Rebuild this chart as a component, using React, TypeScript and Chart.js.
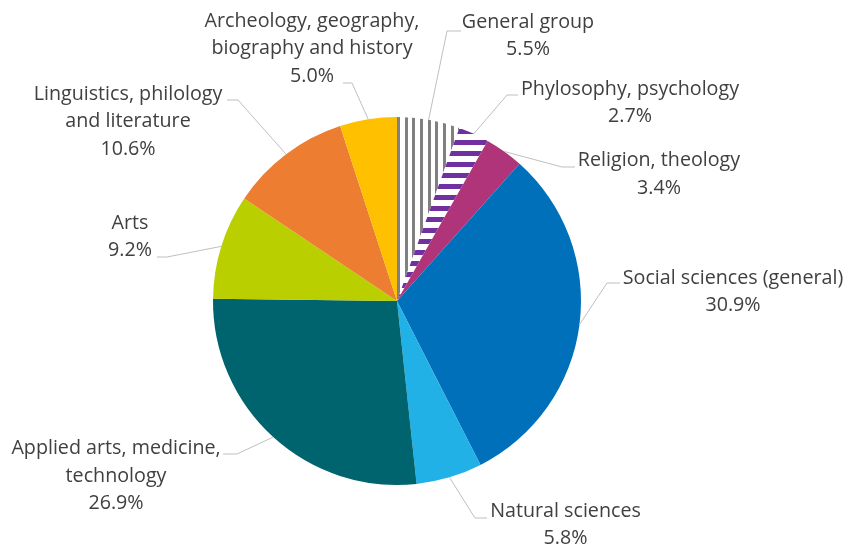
import React, { useEffect, useRef } from "react";
import { Chart, registerables } from "chart.js";

Chart.register(...registerables);

const categories = [
  "General group",
  "Phylosophy, psychology",
  "Religion, theology",
  "Social sciences (general)",
  "Natural sciences",
  "Applied arts, medicine, technology",
  "Arts",
  "Linguistics, philology and literature",
  "Archeology, geography, biography and history",
];

const shares = [5.5, 2.7, 3.4, 30.9, 5.8, 26.9, 9.2, 10.6, 5.0];

// label text lines (last line is the value, appended at draw time)
const labelLines = [
  ["General group"],
  ["Phylosophy, psychology"],
  ["Religion, theology"],
  ["Social sciences (general)"],
  ["Natural sciences"],
  ["Applied arts, medicine,", "technology"],
  ["Arts"],
  ["Linguistics, philology", "and literature"],
  ["Archeology, geography,", "biography and history"],
];

// label placement, offsets from pie centre: text centre x, first line y, elbow, end of leader
const labelLayout = [
  { tx: 131, ty: -279, ex: 50, ey: -270, hx: 64 },
  { tx: 233, ty: -212, ex: 110, ey: -206, hx: 121 },
  { tx: 262, ty: -140.5, ex: 165, ey: -134, hx: 178 },
  { tx: 336, ty: -23, ex: 210, ey: -18, hx: 223 },
  { tx: 168.5, ty: 210, ex: 78, ey: 217, hx: 90 },
  { tx: -281, ty: 147.5, ex: -160, ey: 153, hx: -174 },
  { tx: -267, ty: -78, ex: -230, ey: -44, hx: -240 },
  { tx: -269, ty: -207, ex: -159, ey: -201, hx: -170 },
  { tx: -85, ty: -280, ex: -45, ey: -218, hx: -54 },
];

const solidColors = [
  null,
  null,
  "#B03479",
  "#0070BA",
  "#22B1E6",
  "#00646E",
  "#BACF00",
  "#ED7D31",
  "#FFC000",
];

function makeVerticalStripes(): CanvasPattern | string {
  const c = document.createElement("canvas");
  c.width = 23;
  c.height = 4;
  const ctx = c.getContext("2d");
  if (!ctx) return "#808080";
  ctx.fillStyle = "#ffffff";
  ctx.fillRect(0, 0, 23, 4);
  ctx.fillStyle = "#808080";
  ctx.fillRect(6, 0, 3, 4);
  ctx.fillRect(14, 0, 3, 4);
  ctx.fillRect(21, 0, 2, 4);
  ctx.fillRect(0, 0, 1, 4);
  return ctx.createPattern(c, "repeat") || "#808080";
}

function makeHorizontalStripes(): CanvasPattern | string {
  const c = document.createElement("canvas");
  c.width = 4;
  c.height = 11;
  const ctx = c.getContext("2d");
  if (!ctx) return "#7030A0";
  ctx.fillStyle = "#ffffff";
  ctx.fillRect(0, 0, 4, 11);
  ctx.fillStyle = "#7030A0";
  ctx.fillRect(0, 8, 4, 3);
  ctx.fillRect(0, 0, 4, 2);
  return ctx.createPattern(c, "repeat") || "#7030A0";
}

const FONT = "19.7px 'Open Sans', 'Noto Sans', sans-serif";
const LINE_H = 27.5;

const labelPlugin = {
  id: "pieLabels",
  afterDraw(chart: any) {
    const ctx = chart.ctx;
    const meta = chart.getDatasetMeta(0);
    ctx.save();
    meta.data.forEach((arc: any, i: number) => {
      const p = arc.getProps(["x", "y", "startAngle", "endAngle", "outerRadius"], true);
      const lay = labelLayout[i];
      const mid = (p.startAngle + p.endAngle) / 2;
      const sx = p.x + Math.cos(mid) * p.outerRadius;
      const sy = p.y + Math.sin(mid) * p.outerRadius;
      ctx.strokeStyle = "#BFBFBF";
      ctx.lineWidth = 1;
      ctx.beginPath();
      ctx.moveTo(sx, sy);
      ctx.lineTo(p.x + lay.ex, p.y + lay.ey);
      ctx.lineTo(p.x + lay.hx, p.y + lay.ey);
      ctx.stroke();

      const lines = [...labelLines[i], shares[i].toFixed(1) + "%"];
      ctx.fillStyle = "#404040";
      ctx.font = FONT;
      ctx.textAlign = "center";
      ctx.textBaseline = "middle";
      lines.forEach((t, k) => {
        ctx.fillText(t, p.x + lay.tx, p.y + lay.ty + k * LINE_H);
      });
    });
    ctx.restore();
  },
};

export default function App() {
  const ref = useRef<HTMLCanvasElement | null>(null);
  useEffect(() => {
    if (!ref.current) return;
    const colors = solidColors.map((c, i) =>
      i === 0 ? makeVerticalStripes() : i === 1 ? makeHorizontalStripes() : (c as string)
    );
    const chart = new Chart(ref.current, {
      type: "pie",
      data: {
        labels: categories,
        datasets: [
          {
            data: shares,
            backgroundColor: colors as any,
            borderWidth: 0,
          },
        ],
      },
      options: {
        animation: false,
        responsive: false,
        devicePixelRatio: 1,
        radius: 184,
        layout: { padding: { left: 213, right: 264, top: 117, bottom: 60 } },
        plugins: {
          legend: { display: false },
          tooltip: { enabled: false },
        },
        events: [],
      } as any,
      plugins: [labelPlugin],
    });
    return () => chart.destroy();
  }, []);
  return (
    <div style={{ position: "fixed", left: 0, top: 0, width: 845, height: 545, background: "#ffffff" }}>
      <canvas ref={ref} width={845} height={545} />
    </div>
  );
}
